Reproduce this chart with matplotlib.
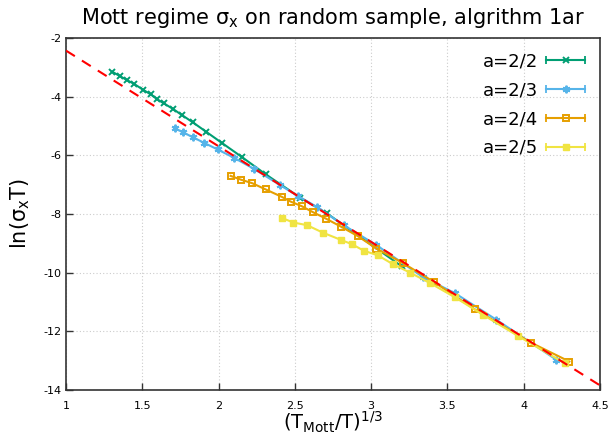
import numpy as np
import matplotlib
matplotlib.use("Agg")
import matplotlib.pyplot as plt
from matplotlib.lines import Line2D
from matplotlib.legend_handler import HandlerLine2D
from matplotlib.ticker import FuncFormatter

# data
x_a22 = [1.303, 1.354, 1.398, 1.448, 1.507, 1.555, 1.598, 1.642, 1.699, 1.758,
         1.830, 1.917, 2.020, 2.151, 2.310, 2.535, 2.708, 3.200]
y_a22 = [-3.15, -3.30, -3.43, -3.57, -3.77, -3.92, -4.09, -4.23, -4.41, -4.62,
         -4.87, -5.19, -5.57, -6.05, -6.65, -7.44, -7.97, -9.78]

x_a23 = [1.714, 1.769, 1.834, 1.904, 1.994, 2.100, 2.232, 2.402, 2.518, 2.648,
         2.820, 3.035, 3.340, 3.550, 3.820, 4.215]
y_a23 = [-5.08, -5.22, -5.39, -5.57, -5.80, -6.08, -6.46, -7.01, -7.38, -7.77,
         -8.38, -9.06, -10.15, -10.70, -11.60, -12.97]

x_a24 = [2.079, 2.147, 2.221, 2.308, 2.413, 2.474, 2.544, 2.620, 2.705, 2.806,
         2.915, 3.035, 3.208, 3.410, 3.680, 4.050, 4.300]
y_a24 = [-6.70, -6.83, -6.95, -7.16, -7.41, -7.58, -7.73, -7.94, -8.16, -8.44,
         -8.76, -9.18, -9.67, -10.31, -11.25, -12.39, -13.03]

x_a25 = [2.413, 2.490, 2.580, 2.686, 2.806, 2.875, 2.952, 3.045, 3.143, 3.256,
         3.385, 3.550, 3.735, 3.964, 4.270]
y_a25 = [-8.13, -8.29, -8.38, -8.64, -8.89, -9.03, -9.25, -9.41, -9.71, -10.00,
         -10.35, -10.84, -11.44, -12.16, -13.09]

labels = ["a=2/2", "a=2/3", "a=2/4", "a=2/5"]
colors = ["#009e73", "#56b4e9", "#e69f00", "#f0e442"]

# linear fit line: y = fit_b + fit_k * (x - 1)
fit_b = -2.43
fit_k = -3.26

x_ticks = [1, 1.5, 2, 2.5, 3, 3.5, 4, 4.5]
y_ticks = [-2, -4, -6, -8, -10, -12, -14]


class HandlerCapLine(HandlerLine2D):
    # gnuplot style errorbar key: line with caps on both ends
    def create_artists(self, legend, orig_handle, xdescent, ydescent,
                       width, height, fontsize, trans):
        artists = super().create_artists(legend, orig_handle, xdescent, ydescent,
                                         width, height, fontsize, trans)
        y = height / 2 - ydescent
        caps = Line2D([-xdescent, width - xdescent], [y, y], linestyle="none",
                      marker="|", markersize=6, markeredgewidth=1.3,
                      color=orig_handle.get_color(), transform=trans)
        return artists + [caps]


plt.rcParams["font.family"] = "DejaVu Sans"
fig = plt.figure(figsize=(6.08, 4.38), dpi=100)
ax = fig.add_axes([0.1086, 0.1096, 0.878, 0.8036])

xs = [x_a22, x_a23, x_a24, x_a25]
ys = [y_a22, y_a23, y_a24, y_a25]
styles = [
    dict(marker="x", markersize=4, markeredgewidth=1.4),
    dict(marker=(6, 2, 0), markersize=5.5, markeredgewidth=1.4),
    dict(marker="s", markersize=4.5, markerfacecolor="none", markeredgewidth=1.4),
    dict(marker="s", markersize=4.5),
]
handles = []
for x, y, c, lab, st in zip(xs, ys, colors, labels, styles):
    h, = ax.plot(x, y, color=c, lw=1.5, label=lab, zorder=3, **st)
    handles.append(h)

xf = np.array([1.0, 4.5])
ax.plot(xf, fit_b + fit_k * (xf - 1), color="#ff0000", lw=1.5,
        dashes=(5, 4), zorder=4)

ax.set_xlim(1, 4.5)
ax.set_ylim(-14, -2)
ax.set_xticks(x_ticks)
ax.set_yticks(y_ticks)
fmt = FuncFormatter(lambda v, p: "%g" % v)
ax.xaxis.set_major_formatter(fmt)
ax.yaxis.set_major_formatter(fmt)
ax.tick_params(direction="in", length=5, width=1, labelsize=8, color="#333333",
               top=False, right=False)
ax.tick_params(axis="x", pad=8)
ax.grid(True, color="#cccccc", linestyle=(0, (1, 2)), lw=0.8)
for s in ax.spines.values():
    s.set_color("#333333")
    s.set_linewidth(1.2)

ax.set_title(r"Mott regime $\mathregular{\sigma_x}$ on random sample, algrithm 1ar",
             fontsize=15, pad=10)
ax.set_xlabel(r"$\mathregular{(T_{Mott}/T)^{1/3}}$", fontsize=14, labelpad=-1)
ax.set_ylabel(r"$\mathregular{ln(\sigma_xT)}$", fontsize=15, labelpad=8)

leg = ax.legend(handles=handles, loc="upper right", frameon=False,
                markerfirst=False, numpoints=1, fontsize=13, handlelength=2.2,
                handletextpad=0.4, labelspacing=0.6, borderaxespad=0.4,
                borderpad=0.4, handler_map={Line2D: HandlerCapLine()})

fig.savefig("out.png", dpi=100)
